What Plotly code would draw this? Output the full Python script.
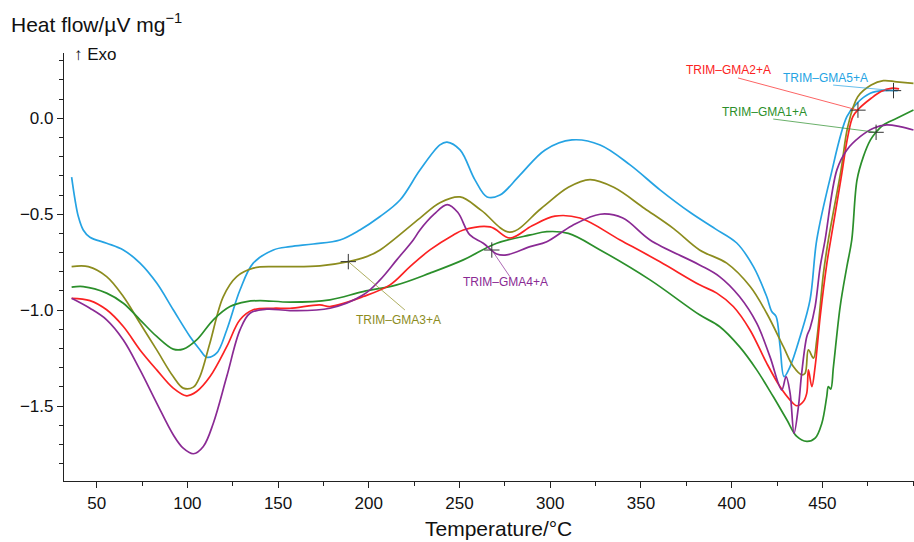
import numpy as np
import plotly.graph_objects as go

# ---------------- data ----------------
t_gma5 = [36.2, 38.1, 39.9, 42.6, 46.3, 55.5, 64.7, 73.9, 83.1, 92.2, 101.4, 106.9, 110.6, 116.1, 121.7, 129.0,
          136.3, 147.4, 156.6, 169.4, 184.1, 195.1, 206.2, 217.2, 228.2, 239.2, 243.1, 250.3, 258.5, 265.2,
          272.3, 283.4, 297.2, 312.0, 327.5, 344.0, 360.5, 377.0, 390.8, 402.8, 412.0, 419.3, 422.1, 424.5,
          426.7, 428.9, 432.2, 437.7, 443.2, 446.9, 454.3, 463.5, 469.0, 476.4, 483.6, 491.5]
v_gma5 = [-0.307, -0.426, -0.512, -0.582, -0.620, -0.651, -0.686, -0.755, -0.859, -0.998, -1.137, -1.206, -1.245,
          -1.224, -1.103, -0.895, -0.755, -0.686, -0.669, -0.655, -0.634, -0.582, -0.512, -0.426, -0.270, -0.139,
          -0.124, -0.165, -0.321, -0.410, -0.400, -0.295, -0.165, -0.113, -0.139, -0.243, -0.373, -0.490, -0.575,
          -0.650, -0.773, -0.929, -1.007, -1.033, -1.190, -1.346, -1.294, -1.138, -0.946, -0.634, -0.312, 0.008,
          0.078, 0.130, 0.144, 0.144]

t_gma3 = [36.2, 45.4, 55.5, 64.7, 73.9, 83.1, 92.2, 97.7, 103.3, 106.9, 112.4, 119.8, 127.2, 136.3, 147.4, 156.6,
          173.1, 188.7, 198.8, 206.2, 228.2, 239.2, 250.3, 262.0, 277.8, 295.0, 310.0, 321.9, 335.0, 352.0, 368.0,
          382.3, 397.3, 410.2, 419.3, 428.5, 434.0, 438.6, 440.5, 442.3, 445.1, 446.9, 450.6, 453.3, 460.3, 464.0,
          469.5, 476.9, 483.6, 491.0, 500.2]
v_gma3 = [-0.773, -0.773, -0.825, -0.929, -1.068, -1.207, -1.346, -1.406, -1.401, -1.346, -1.172, -0.929, -0.825,
          -0.781, -0.773, -0.773, -0.769, -0.747, -0.721, -0.686, -0.520, -0.440, -0.410, -0.480, -0.593, -0.470,
          -0.360, -0.320, -0.360, -0.470, -0.575, -0.686, -0.755, -0.877, -1.016, -1.190, -1.294, -1.337, -1.328,
          -1.207, -1.250, -1.155, -0.807, -0.634, -0.269, -0.044, 0.112, 0.173, 0.196, 0.190, 0.182]

t_gma1 = [36.2, 42.6, 55.5, 64.7, 73.9, 83.1, 92.2, 97.7, 105.1, 114.3, 123.5, 132.7, 140.0, 156.6, 178.6, 196.9,
          215.4, 233.7, 252.1, 270.5, 289.1, 298.1, 310.0, 327.5, 355.0, 382.3, 393.3, 404.3, 413.8, 422.9, 430.4,
          435.9, 441.4, 446.0, 449.7, 452.4, 453.3, 454.6, 456.1, 459.8, 463.5, 466.2, 469.1, 472.6, 476.5, 479.1,
          483.6, 491.0, 500.2]
v_gma1 = [-0.880, -0.877, -0.911, -0.964, -1.050, -1.137, -1.203, -1.203, -1.155, -1.050, -0.981, -0.955, -0.950,
          -0.958, -0.946, -0.903, -0.868, -0.807, -0.738, -0.651, -0.608, -0.591, -0.600, -0.686, -0.842, -1.024,
          -1.085, -1.190, -1.311, -1.450, -1.571, -1.658, -1.684, -1.667, -1.589, -1.450, -1.398, -1.411, -1.294,
          -0.981, -0.773, -0.634, -0.321, -0.200, -0.113, -0.078, -0.035, 0.000, 0.043]

t_gma2 = [36.2, 46.3, 55.5, 64.7, 73.9, 83.1, 92.2, 99.6, 105.1, 112.5, 121.7, 129.0, 136.3, 147.4, 156.6, 173.0,
          178.6, 197.0, 211.7, 222.7, 233.7, 246.6, 252.1, 266.9, 277.8, 290.0, 302.6, 316.4, 338.5, 360.5, 382.3,
          391.8, 400.9, 410.1, 419.3, 426.6, 432.1, 435.9, 439.5, 441.4, 442.3, 444.2, 446.0, 448.8, 452.5, 454.6,
          460.3, 464.0, 466.8, 470.4, 476.9, 482.3, 487.8, 492.3]
v_gma2 = [-0.938, -0.950, -0.998, -1.085, -1.207, -1.311, -1.406, -1.446, -1.424, -1.346, -1.190, -1.050, -0.998,
          -0.990, -0.990, -0.972, -0.981, -0.929, -0.868, -0.773, -0.686, -0.608, -0.582, -0.566, -0.624, -0.560,
          -0.510, -0.520, -0.634, -0.748, -0.868, -0.911, -0.981, -1.103, -1.276, -1.398, -1.467, -1.498, -1.476,
          -1.432, -1.311, -1.398, -1.294, -1.033, -0.755, -0.634, -0.312, -0.096, 0.008, 0.052, 0.104, 0.139,
          0.156, 0.153]

t_gma4 = [36.2, 46.3, 55.5, 64.7, 73.9, 83.1, 92.2, 97.7, 103.3, 108.8, 114.3, 121.7, 129.0, 134.5, 143.7, 156.6,
          178.6, 197.0, 206.2, 215.4, 224.5, 228.2, 236.0, 243.2, 249.0, 255.7, 263.1, 270.5, 276.0, 288.9, 298.1,
          312.0, 327.5, 340.0, 355.0, 382.3, 393.3, 404.3, 413.8, 421.1, 427.6, 430.0, 432.2, 434.4, 436.8, 438.6,
          441.4, 443.2, 446.0, 448.8, 451.5, 458.0, 463.5, 470.8, 478.1, 485.5, 492.8, 500.2]
v_gma4 = [-0.938, -0.990, -1.050, -1.155, -1.311, -1.484, -1.649, -1.719, -1.748, -1.710, -1.589, -1.346, -1.103,
          -1.016, -0.995, -1.002, -0.990, -0.920, -0.842, -0.738, -0.634, -0.582, -0.500, -0.450, -0.490, -0.608,
          -0.651, -0.707, -0.712, -0.669, -0.643, -0.560, -0.500, -0.520, -0.634, -0.764, -0.825, -0.929, -1.068,
          -1.242, -1.415, -1.346, -1.432, -1.641, -1.502, -1.328, -1.138, -1.094, -0.981, -0.773, -0.634, -0.269,
          -0.165, -0.096, -0.052, -0.035, -0.044, -0.061]

series_names = ["TRIM–GMA1+A", "TRIM–GMA2+A", "TRIM–GMA3+A", "TRIM–GMA4+A", "TRIM–GMA5+A"]
x_ticks = [50, 100, 150, 200, 250, 300, 350, 400, 450]
y_ticks = [0.0, -0.5, -1.0, -1.5]

# ---------------- styling ----------------
colors = {
    "TRIM–GMA1+A": "#2b8f2b",
    "TRIM–GMA2+A": "#fb2222",
    "TRIM–GMA3+A": "#8c8c1e",
    "TRIM–GMA4+A": "#8a2a94",
    "TRIM–GMA5+A": "#25a3e3",
}
series = {
    "TRIM–GMA1+A": (t_gma1, v_gma1),
    "TRIM–GMA2+A": (t_gma2, v_gma2),
    "TRIM–GMA3+A": (t_gma3, v_gma3),
    "TRIM–GMA4+A": (t_gma4, v_gma4),
    "TRIM–GMA5+A": (t_gma5, v_gma5),
}
# label layout: (marker temperature, text x, text y, leader start x, leader start y)
label_layout = {
    "TRIM–GMA2+A": (469.6, 398.0, 0.252, 403.5, 0.210),
    "TRIM–GMA5+A": (489.2, 451.5, 0.210, 455.9, 0.173),
    "TRIM–GMA1+A": (479.6, 418.3, 0.033, 422.9, -0.004),
    "TRIM–GMA3+A": (188.7, 216.1, -1.051, 219.9, -0.999),
    "TRIM–GMA4+A": (267.8, 275.2, -0.853, 277.8, -0.826),
}

FONT = "Liberation Sans, Arial, sans-serif"

fig = go.Figure()
for name in ["TRIM–GMA5+A", "TRIM–GMA3+A", "TRIM–GMA1+A", "TRIM–GMA2+A", "TRIM–GMA4+A"]:
    t, v = series[name]
    fig.add_trace(go.Scatter(x=t, y=v, mode="lines", name=name,
                             line=dict(color=colors[name], width=1.7, shape="spline", smoothing=1.0),
                             showlegend=False, hoverinfo="skip"))

def hex_rgba(h, a):
    h = h.lstrip("#")
    return "rgba(%d,%d,%d,%s)" % (int(h[0:2], 16), int(h[2:4], 16), int(h[4:6], 16), a)

mx, my = [], []
for name, (tm, tx, ty, lx, ly) in label_layout.items():
    t, v = series[name]
    vm = float(np.interp(tm, t, v))
    mx.append(tm)
    my.append(vm)
    fig.add_shape(type="line", x0=lx, y0=ly, x1=tm, y1=vm, xref="x", yref="y",
                  line=dict(color=hex_rgba(colors[name], 0.7), width=1))
    fig.add_annotation(x=tx, y=ty, xref="x", yref="y", text=name, showarrow=False,
                       font=dict(family=FONT, size=12, color=colors[name]))

fig.add_trace(go.Scatter(x=mx, y=my, mode="markers", showlegend=False, hoverinfo="skip",
                         marker=dict(symbol="cross-thin", size=11, line=dict(color="#333333", width=1))))

axis_font = dict(family=FONT, size=17, color="#111111")
fig.update_xaxes(range=[32, 500.5], tickvals=x_ticks, ticks="outside", ticklen=6, tickwidth=1,
                 tickcolor="#222222", showline=True, linecolor="#222222", linewidth=1.2,
                 showgrid=False, zeroline=False, tickfont=axis_font,
                 minor=dict(dtick=25, tick0=0, ticks="outside", ticklen=4, tickcolor="#222222", showgrid=False))
fig.update_yaxes(range=[-1.89, 0.34], tickvals=y_ticks, tickformat=".1f", ticks="outside", ticklen=6,
                 tickwidth=1, tickcolor="#222222", showline=True, linecolor="#222222", linewidth=1.2,
                 showgrid=False, zeroline=False, tickfont=axis_font,
                 minor=dict(dtick=0.1, tick0=0, ticks="outside", ticklen=4, tickcolor="#222222", showgrid=False))

W, H = 914, 542
ML, MR, MT, MB = 64, 0, 53, 61
fig.update_layout(
    width=W, height=H,
    margin=dict(l=ML, r=MR, t=MT, b=MB),
    paper_bgcolor="white", plot_bgcolor="white",
    showlegend=False,
)
pw, ph = W - ML - MR, H - MT - MB

def px(xp):
    return (xp - ML) / pw

def py(yp):
    return (H - MB - yp) / ph

fig.add_annotation(x=px(9), y=py(23), xref="paper", yref="paper", text="Heat flow/µV mg<sup>−1</sup>",
                   showarrow=False, xanchor="left", yanchor="middle",
                   font=dict(family=FONT, size=21, color="#111111"))
fig.add_annotation(x=px(72), y=py(54), xref="paper", yref="paper", text="↑ Exo",
                   showarrow=False, xanchor="left", yanchor="middle",
                   font=dict(family=FONT, size=17, color="#111111"))
fig.add_annotation(x=px(499), y=py(528), xref="paper", yref="paper", text="Temperature/°C",
                   showarrow=False, xanchor="center", yanchor="middle",
                   font=dict(family=FONT, size=21, color="#111111"))

fig.write_html("out.html")
